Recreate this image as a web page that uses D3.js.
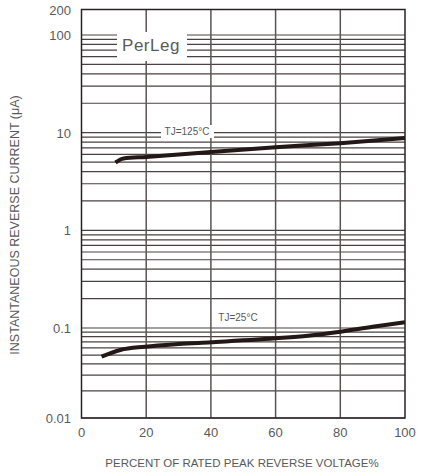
<!DOCTYPE html>
<html>
<head>
<meta charset="utf-8">
<script src="https://cdn.jsdelivr.net/npm/d3@7"></script>
<style>
  body { margin: 0; background: #fff; }
  text { font-family: "Liberation Sans", Arial, sans-serif; fill: #5a5a5a; }
</style>
</head>
<body>
<div id="chart"></div>
<script>
// data
const xTicks = [0, 20, 40, 60, 80, 100]
const yTicks = [0.01, 0.1, 1, 10, 100, 200]
const yTickLabels = ["0.01", "0.1", "1", "10", "100", "200"]

const pct125 = [10.5, 13, 20, 40, 60, 80, 100]
const cur125 = [4.95, 5.45, 5.65, 6.35, 7.1, 7.8, 8.8]

const pct25 = [6.2, 12, 19.6, 30, 40, 60, 70, 80, 90, 100]
const cur25 = [0.048, 0.057, 0.062, 0.0664, 0.0694, 0.0768, 0.082, 0.091, 0.103, 0.1144]

const W = 422, H = 473
const LEFT = 81.5, RIGHT = 405, TOP = 9.5, BOTTOM = 418

const svg = d3.select("#chart").append("svg")
    .attr("width", W)
    .attr("height", H)

const x = d3.scaleLinear().domain([0, 100]).range([LEFT, RIGHT])
// the printed log grid is not quite even, so the scale is piecewise log
const y = d3.scaleLog()
    .domain([0.01, 0.1, 100, 200])
    .range([BOTTOM, 328, 35, TOP])

//minor + major horizontal gridlines, 0.01 .. 100
const hLines = []
for (let dec = 0.01; dec < 100; dec *= 10) {
    for (let k = 1; k <= 9; k++) hLines.push(+(dec * k).toPrecision(3))
}
hLines.push(100)

const grid = svg.append("g")
grid.selectAll("line.h")
    .data(hLines)
    .enter().append("line")
    .attr("class", "h")
    .attr("x1", LEFT).attr("x2", RIGHT)
    .attr("y1", d => y(d)).attr("y2", d => y(d))
    .attr("stroke", "#4a4242")
    .attr("stroke-width", 1.2)

grid.selectAll("line.v")
    .data([20, 40, 60, 80])
    .enter().append("line")
    .attr("class", "v")
    .attr("x1", d => x(d)).attr("x2", d => x(d))
    .attr("y1", TOP).attr("y2", BOTTOM)
    .attr("stroke", "#5a5454")
    .attr("stroke-width", 1.5)

// white patches behind the labels
svg.append("rect")
    .attr("x", 117).attr("y", 32)
    .attr("width", 70).attr("height", 29)
    .attr("fill", "#fff")
svg.append("rect")
    .attr("x", 161).attr("y", 125)
    .attr("width", 53).attr("height", 13)
    .attr("fill", "#fff")

// frame
svg.append("rect")
    .attr("x", LEFT).attr("y", TOP)
    .attr("width", RIGHT - LEFT).attr("height", BOTTOM - TOP)
    .attr("fill", "none")
    .attr("stroke", "#2a2222")
    .attr("stroke-width", 1.5)

// curves
const line = d3.line()
    .x(d => x(d[0]))
    .y(d => y(d[1]))
    .curve(d3.curveMonotoneX)

const series = [
    d3.zip(pct125, cur125),
    d3.zip(pct25, cur25)
]
svg.selectAll("path.curve")
    .data(series)
    .enter().append("path")
    .attr("class", "curve")
    .attr("d", line)
    .attr("fill", "none")
    .attr("stroke", "#231815")
    .attr("stroke-width", 4)

// axes labels
svg.selectAll("text.xt")
    .data(xTicks)
    .enter().append("text")
    .attr("class", "xt")
    .attr("x", d => x(d))
    .attr("y", 437)
    .attr("text-anchor", "middle")
    .attr("font-size", 13)
    .text(d => d)

svg.selectAll("text.yt")
    .data(yTicks)
    .enter().append("text")
    .attr("class", "yt")
    .attr("x", 71)
    .attr("y", d => y(d) + 5)
    .attr("text-anchor", "end")
    .attr("font-size", 13)
    .text((d, i) => yTickLabels[i])

svg.append("text")
    .attr("x", 242)
    .attr("y", 467)
    .attr("text-anchor", "middle")
    .attr("font-size", 11.5)
    .text("PERCENT OF RATED PEAK REVERSE VOLTAGE%")

svg.append("text")
    .attr("transform", "translate(19,225) rotate(-90)")
    .attr("text-anchor", "middle")
    .attr("font-size", 12.5)
    .text("INSTANTANEOUS REVERSE CURRENT (μA)")

svg.append("text")
    .attr("x", 151)
    .attr("y", 51)
    .attr("text-anchor", "middle")
    .attr("font-size", 17)
    .attr("font-family", "Noto Sans")
    .attr("letter-spacing", 0.5)
    .text("PerLeg")

svg.append("text")
    .attr("x", 187)
    .attr("y", 135)
    .attr("text-anchor", "middle")
    .attr("font-size", 10)
    .text("TJ=125°C")

svg.append("text")
    .attr("x", 238)
    .attr("y", 321)
    .attr("text-anchor", "middle")
    .attr("font-size", 10)
    .text("TJ=25°C")
</script>
</body>
</html>
